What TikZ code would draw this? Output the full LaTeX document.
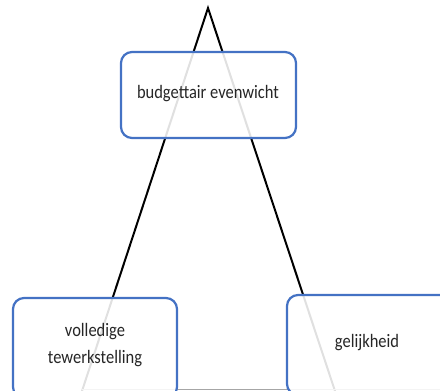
\documentclass[tikz,border=0pt]{standalone}
\usepackage{fontspec}
\setmainfont{Carlito}
\definecolor{boxblue}{HTML}{4472C4}
\begin{document}
\begin{tikzpicture}[x=1pt,y=-1pt,
  goalbox/.style={draw=boxblue,line width=2.2pt,rounded corners=11pt,fill=white,fill opacity=0.88,text opacity=1,align=center,inner sep=0pt},
  label/.style={font=\fontsize{16.5}{23}\selectfont,align=center,text=black!85,yscale=1.15,transform shape},
  side/.style={line width=2pt,black}]
\useasboundingbox (0,0) rectangle (440,391);
\clip (0,0) rectangle (440,391);
\coordinate (apex) at (208,8);
\coordinate (bl) at (82,391);
\coordinate (br) at (335,391);
\coordinate (edge) at (440,389);
\draw[side] (bl) -- (apex) -- (br);
\draw[gray!70,line width=0.8pt] (bl |- edge) -- (edge);
\node[goalbox,minimum width=175pt,minimum height=86pt] (top) at (208.5,95) {};
\node[goalbox,minimum width=164pt,minimum height=100pt] (left) at (95,348) {};
\node[goalbox,minimum width=170pt,minimum height=100pt] (right) at (372,345) {};
\node[label] (ttext) at (208,94) {budgettair evenwicht};
\node[label] (ltext) at (95,345) {volledige\\tewerkstelling};
\node[label] (rtext) at (367,343) {gelijkheid};
\end{tikzpicture}
\end{document}
